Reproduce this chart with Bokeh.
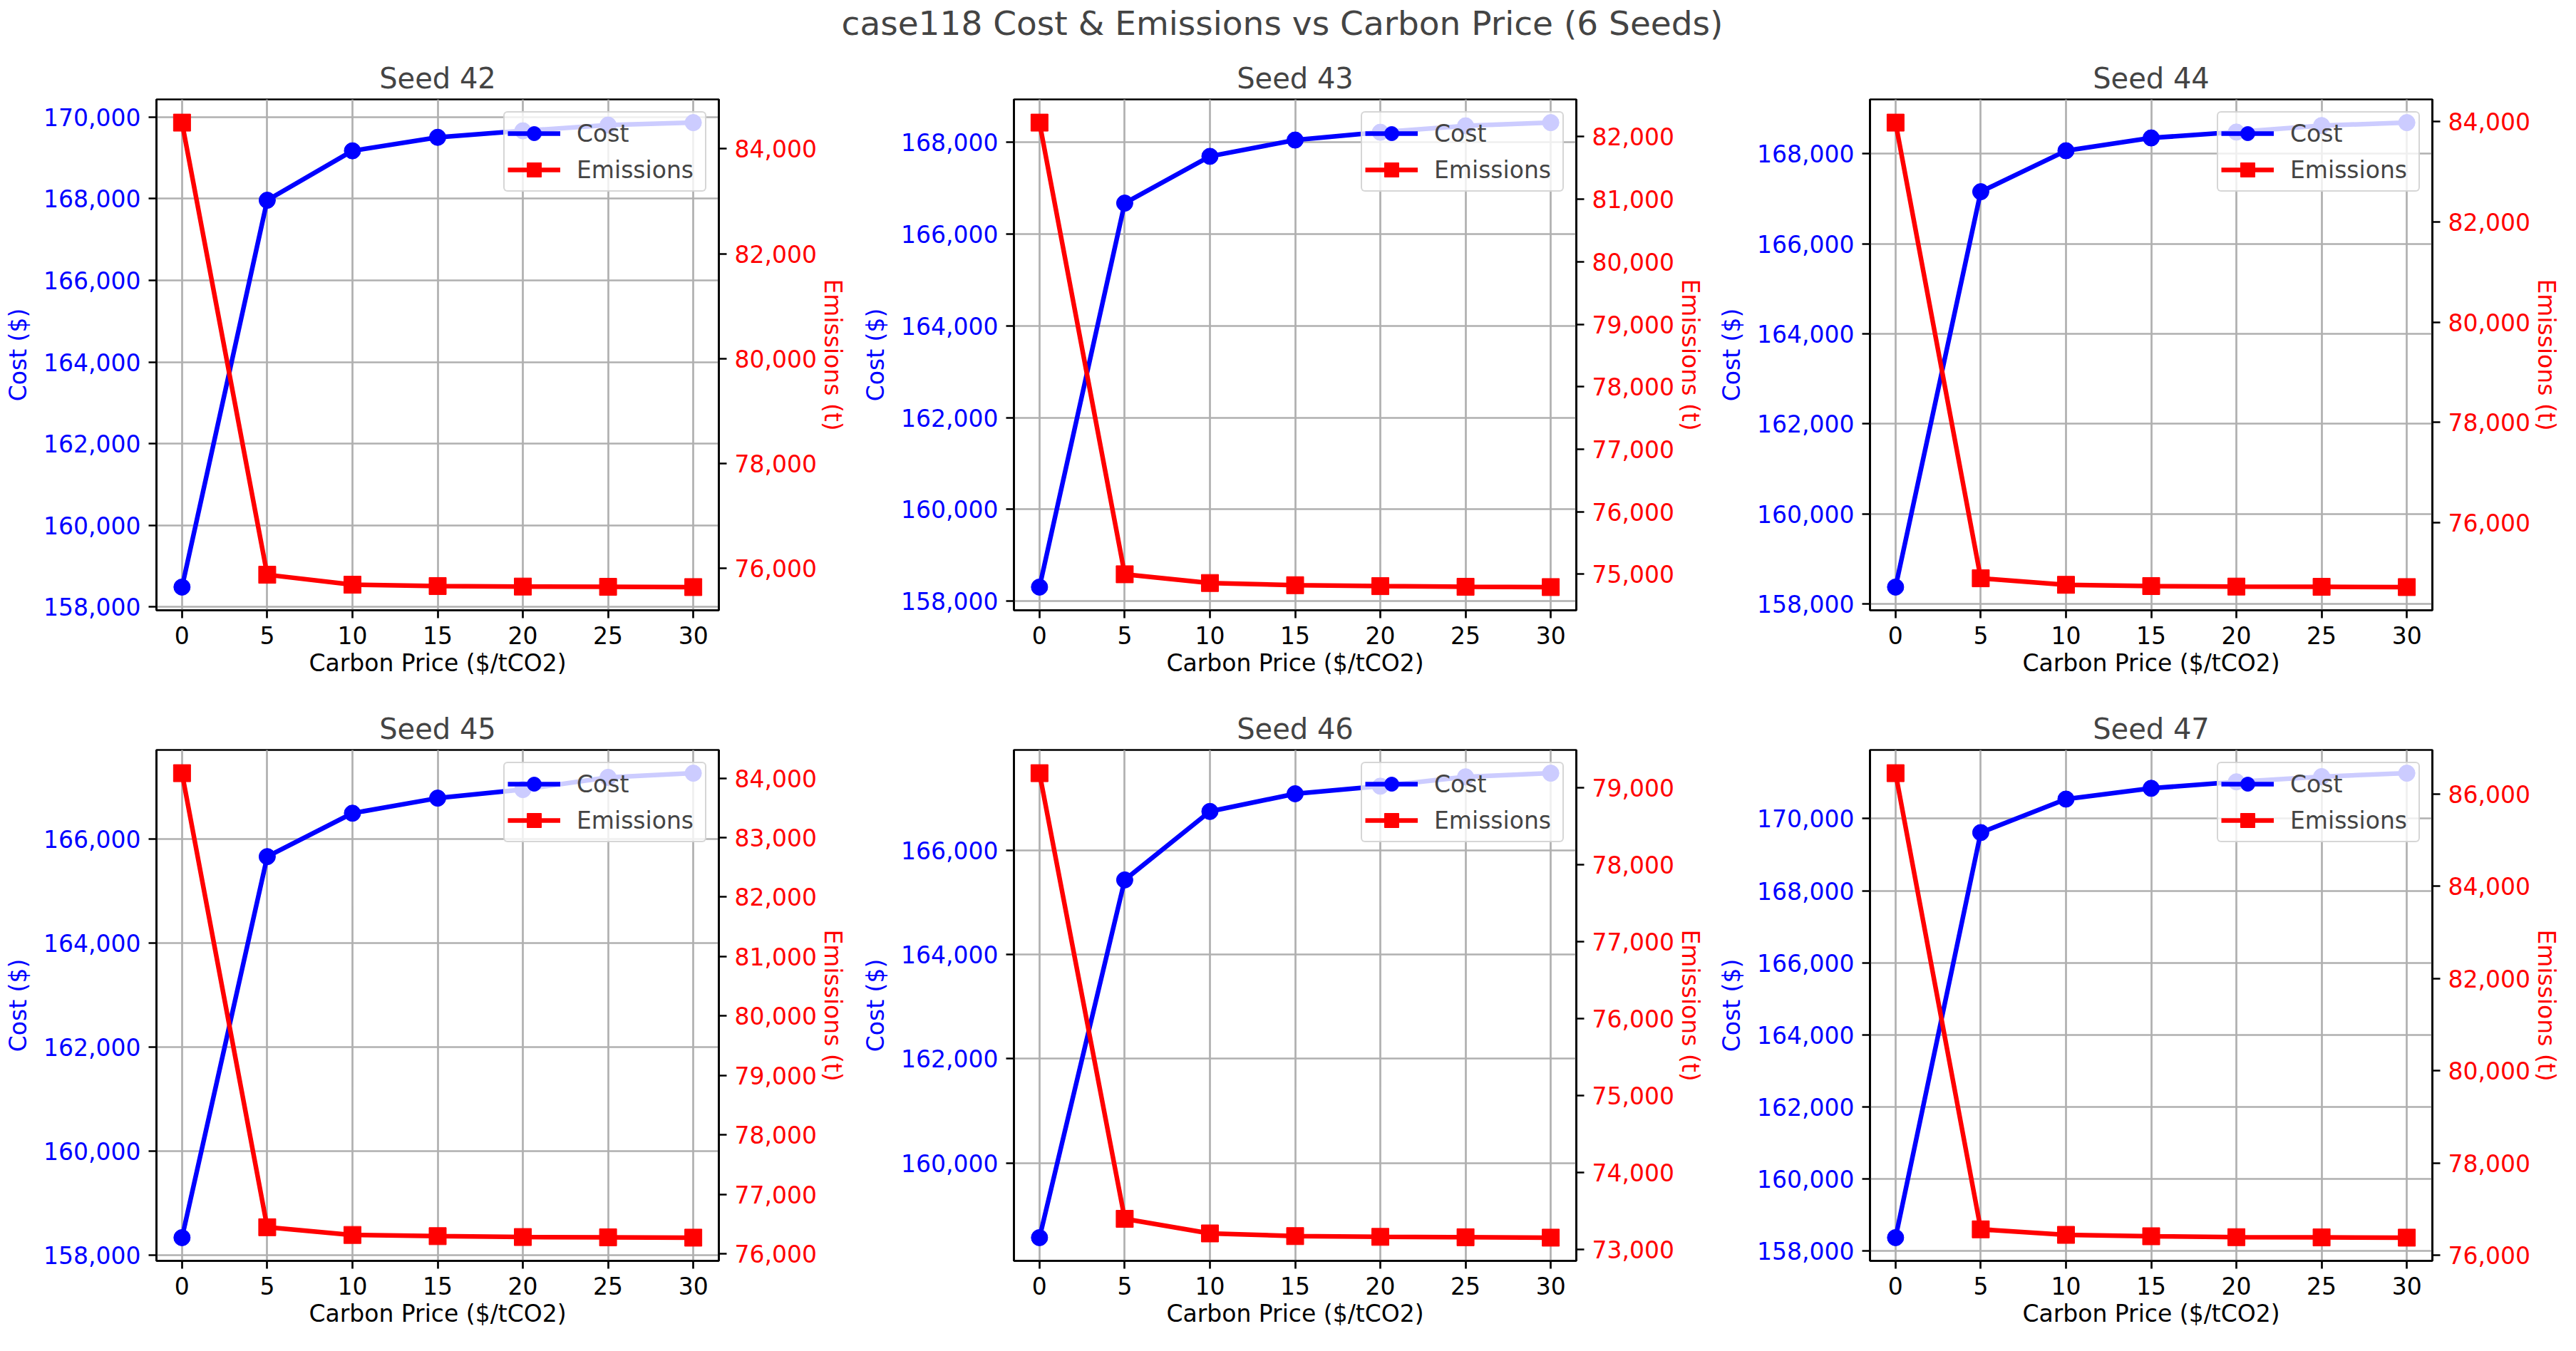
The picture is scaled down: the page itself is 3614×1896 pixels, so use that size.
from bokeh.embed import file_html
from bokeh.layouts import column, row
from bokeh.models import (Legend, LegendItem, LinearAxis, NumeralTickFormatter,
                          Range1d, SingleIntervalTicker)
from bokeh.plotting import figure
from bokeh.resources import INLINE

FONT = "DejaVu Sans"

carbon_price = [0, 5, 10, 15, 20, 25, 30]
seeds = [42, 43, 44, 45, 46, 47]

cost_42 = [158490, 167960, 169170, 169500, 169660, 169800, 169860]
emis_42 = [84500, 75875, 75685, 75660, 75650, 75645, 75640]
cost_43 = [158305, 166675, 167695, 168050, 168220, 168360, 168430]
emis_43 = [82225, 75000, 74860, 74825, 74810, 74800, 74795]
cost_44 = [158375, 167160, 168070, 168355, 168485, 168630, 168695]
emis_44 = [83975, 74895, 74765, 74740, 74730, 74725, 74720]
cost_45 = [158335, 165665, 166500, 166790, 166955, 167190, 167270]
emis_45 = [84085, 76445, 76315, 76295, 76280, 76275, 76270]
cost_46 = [158565, 165435, 166750, 167090, 167235, 167415, 167485]
emis_46 = [79190, 73395, 73205, 73170, 73160, 73155, 73150]
cost_47 = [158360, 169615, 170545, 170845, 171025, 171170, 171265]
emis_47 = [86455, 76565, 76445, 76415, 76395, 76390, 76385]

costs = [cost_42, cost_43, cost_44, cost_45, cost_46, cost_47]
emissions = [emis_42, emis_43, emis_44, emis_45, emis_46, emis_47]

# tick spacing of each twin axis
cost_tick_step = [2000, 2000, 2000, 2000, 2000, 2000]
emis_tick_step = [2000, 1000, 2000, 1000, 1000, 2000]

CELL_W = 1199
FRAME_W = 789
FRAME_H = 717
LEFT_BORDERS = [219, 223, 225]


def padded(values, frac=0.05):
    lo, hi = min(values), max(values)
    span = hi - lo
    return lo - frac * span, hi + frac * span


def style_axis(axis, color):
    axis.axis_line_width = 2.7
    axis.major_tick_line_width = 2.7
    axis.major_tick_out = 11
    axis.major_tick_in = 0
    axis.minor_tick_line_color = None
    axis.major_label_standoff = 11
    axis.major_label_text_font = FONT
    axis.major_label_text_font_size = "33px"
    axis.major_label_text_color = color
    axis.axis_label_text_font = FONT
    axis.axis_label_text_font_size = "33px"
    axis.axis_label_text_font_style = "normal"
    axis.axis_label_text_color = color


def make_panel(i, top_border, height):
    left = LEFT_BORDERS[i % 3]
    cost = costs[i]
    emis = emissions[i]
    p = figure(
        width=CELL_W,
        height=height,
        min_border_left=left,
        min_border_right=CELL_W - left - FRAME_W,
        min_border_top=top_border,
        min_border_bottom=height - top_border - FRAME_H,
        x_range=Range1d(-1.5, 31.5),
        y_range=Range1d(*padded(cost)),
        output_backend="svg",
        toolbar_location=None,
    )
    p.title.text = f"Seed {seeds[i]}"
    p.title.align = "center"
    p.title.text_font = FONT
    p.title.text_font_size = "40px"
    p.title.text_font_style = "normal"
    p.title.standoff = 14
    p.outline_line_color = "black"
    p.outline_line_width = 2.7
    p.extra_y_ranges = {"em": Range1d(*padded(emis))}

    p.xaxis.axis_label = "Carbon Price ($/tCO2)"
    p.xaxis.ticker = SingleIntervalTicker(interval=5)
    style_axis(p.xaxis[0], "black")
    p.xaxis.axis_label_standoff = 4

    p.yaxis.axis_label = "Cost ($)"
    p.yaxis.ticker = SingleIntervalTicker(interval=cost_tick_step[i])
    p.yaxis.formatter = NumeralTickFormatter(format="0,0")
    style_axis(p.yaxis[0], "blue")
    p.yaxis.axis_label_standoff = 13

    right = LinearAxis(y_range_name="em", axis_label="Emissions (t)",
                       ticker=SingleIntervalTicker(interval=emis_tick_step[i]),
                       formatter=NumeralTickFormatter(format="0,0"))
    style_axis(right, "red")
    right.axis_label_standoff = 0
    p.add_layout(right, "right")

    for g in (p.xgrid[0], p.ygrid[0]):
        g.grid_line_color = "#b0b0b0"
        g.grid_line_width = 2.7

    cl = p.line(carbon_price, cost, line_color="blue", line_width=6.5)
    cm = p.scatter(carbon_price, cost, marker="circle", size=23, color="blue")
    el = p.line(carbon_price, emis, line_color="red", line_width=6.5, y_range_name="em")
    em = p.scatter(carbon_price, emis, marker="square", size=24, color="red", y_range_name="em")

    legend = Legend(
        items=[LegendItem(label="Cost", renderers=[cl, cm]),
               LegendItem(label="Emissions", renderers=[el, em])],
        location="top_right",
        margin=17,
        padding=4,
        spacing=1,
        glyph_width=74,
        glyph_height=50,
        label_standoff=23,
        label_width=176,
        label_text_font=FONT,
        label_text_font_size="33px",
        background_fill_alpha=0.8,
        border_line_color="#cccccc",
        border_line_width=2.7,
        border_line_alpha=0.8,
        border_radius=6,
    )
    p.add_layout(legend)
    return p


head = figure(width=3 * CELL_W, height=70, output_backend="svg", toolbar_location=None,
              x_axis_location=None, y_axis_location=None, min_border=0)
head.title.text = "case118 Cost & Emissions vs Carbon Price (6 Seeds)"
head.title.align = "center"
head.title.text_font = FONT
head.title.text_font_size = "47px"
head.title.text_font_style = "normal"
head.title.standoff = 4
head.outline_line_color = None
head.xgrid.visible = False
head.ygrid.visible = False

row1 = row([make_panel(k, 69, 900) for k in range(3)])
row2 = row([make_panel(k, 82, 905) for k in range(3, 6)])
layout = column(head, row1, row2)

open("out.html", "w").write(file_html(layout, INLINE))
